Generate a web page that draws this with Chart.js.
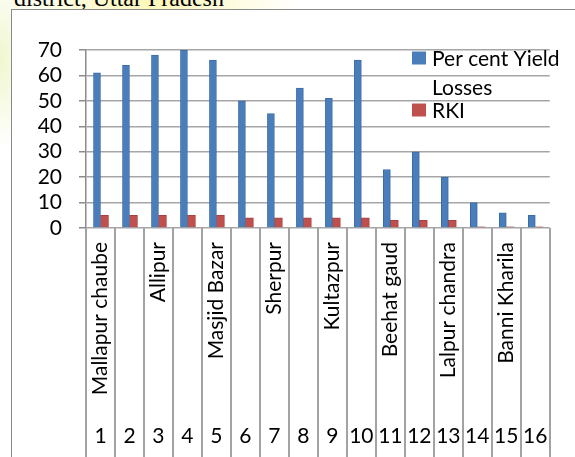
<!DOCTYPE html>
<html>
<head>
<meta charset="utf-8">
<script src="https://cdn.jsdelivr.net/npm/chart.js@4.4.1/dist/chart.umd.min.js"></script>
<style>
  html, body { margin: 0; padding: 0; width: 575px; height: 457px; overflow: hidden; }
  body {
    background:
      radial-gradient(ellipse 150px 60px at 150px 0px, rgba(252, 246, 170, 0.85), rgba(255, 255, 255, 0) 100%),
      radial-gradient(ellipse 40px 90px at 0px 60px, rgba(238, 246, 200, 0.9), rgba(255, 255, 255, 0) 100%),
      #fff;
  }
  #titre {
    position: absolute; left: 14px; top: -14px;
    font-family: "Liberation Serif", serif; font-size: 24px; line-height: 24px;
    color: #000; white-space: nowrap;
  }
  #cadre {
    position: absolute; left: 11px; top: 9px; width: 620px; height: 500px;
    border-left: 1.5px solid #8a8a8a; border-top: 1.5px solid #8a8a8a; background: #fff;
  }
  #zone { position: absolute; left: 0; top: 0; width: 575px; height: 457px; }
</style>
</head>
<body>
<div id="titre">district, Uttar Pradesh</div>
<div id="cadre"></div>
<div id="zone"><canvas id="graphique"></canvas></div>
<script>
// Villages (seuls les impairs sont affichés sur l'original)
const villages = ['Mallapur chaube', '', 'Allipur', '', 'Masjid Bazar', '', 'Sherpur', '',
                  'Kultazpur', '', 'Beehat gaud', '', 'Lalpur chandra', '', 'Banni Kharila', ''];
const numeros = ['1', '2', '3', '4', '5', '6', '7', '8', '9', '10', '11', '12', '13', '14', '15', '16'];

// Valeurs
const pertesRendement = [61, 64, 68, 70, 66, 50, 45, 55, 51, 66, 23, 30, 20, 10, 6, 5];
const rki = [5, 5, 5, 5, 5, 4, 4, 4, 4, 4, 3, 3, 3, 0.5, 0.5, 0.5];

const nomsSeries = ['Per cent Yield Losses', 'RKI'];
const legendeLignes = [['Per cent Yield', 'Losses'], ['RKI']];

const police = 'Lato';

// Traits verticaux entre les catégories, sous la zone du graphique
const separateurs = {
  id: 'separateurs',
  afterDraw(chart) {
    const { ctx, chartArea, scales } = chart;
    const x = scales.x;
    const pas = x.width / numeros.length;
    ctx.save();
    ctx.strokeStyle = '#a3a3a3';
    ctx.lineWidth = 2;
    for (let i = 0; i <= numeros.length; i++) {
      const px = Math.round(x.left + i * pas);
      ctx.beginPath();
      ctx.moveTo(px, chartArea.bottom);
      ctx.lineTo(px, chart.height);
      ctx.stroke();
    }
    ctx.restore();
  }
};

// Légende sur deux lignes comme sur l'original
const legende = {
  id: 'legende',
  afterDraw(chart) {
    const ctx = chart.ctx;
    const lignesY = [[58, 87], [110]];
    ctx.save();
    ctx.font = '21px ' + police;
    ctx.textBaseline = 'middle';
    chart.data.datasets.forEach((ds, i) => {
      const y0 = lignesY[i][0];
      ctx.fillStyle = ds.backgroundColor;
      ctx.fillRect(412, y0 - 6.5, 14, 13);
      ctx.fillStyle = '#000';
      legendeLignes[i].forEach((t, j) => ctx.fillText(t, 432, lignesY[i][j] + 1));
    });
    ctx.restore();
  }
};

const ctx = document.getElementById('graphique').getContext('2d');
const graphique = new Chart(ctx, {
  type: 'bar',
  data: {
    labels: villages,
    datasets: [{
      label: nomsSeries[0],
      data: pertesRendement,
      backgroundColor: '#4A7EBB',
      borderColor: '#3D6BA3',
      borderWidth: 1,
      barThickness: 7
    }, {
      label: nomsSeries[1],
      data: rki,
      backgroundColor: '#C0504D',
      borderColor: '#A8403D',
      borderWidth: 1,
      barThickness: 8
    }]
  },
  options: {
    responsive: true,
    maintainAspectRatio: false,
    animation: false,
    categoryPercentage: 0.55,
    layout: { padding: { top: 50, right: 17, left: 0, bottom: 0 } },
    plugins: {
      legend: { display: false },
      tooltip: { enabled: false }
    },
    scales: {
      y: {
        min: 0,
        max: 70,
        ticks: {
          stepSize: 10, autoSkip: false,
          font: { family: police, size: 21 }, color: '#000', padding: 17
        },
        grid: { color: '#a6a6a6', lineWidth: 1.5, tickLength: 7, tickColor: '#8c8c8c' },
        border: { color: '#8c8c8c', width: 1.5 },
        afterFit(axis) { axis.width = 86; }
      },
      x: {
        position: 'bottom',
        offset: true,
        grid: { display: false, drawTicks: false },
        border: { display: false },
        ticks: {
          autoSkip: false, minRotation: 90, maxRotation: 90, padding: 14,
          font: { family: police, size: 21 }, color: '#000'
        },
        afterFit(axis) { axis.height = 182; }
      },
      x2: {
        type: 'category',
        labels: numeros,
        position: 'bottom',
        offset: true,
        grid: { display: false, drawTicks: false },
        border: { display: false },
        ticks: {
          autoSkip: false, maxRotation: 0, padding: 14,
          font: { family: police, size: 21 }, color: '#000'
        },
        afterFit(axis) { axis.height = 47; }
      }
    }
  },
  plugins: [separateurs, legende]
});
</script>
</body>
</html>
